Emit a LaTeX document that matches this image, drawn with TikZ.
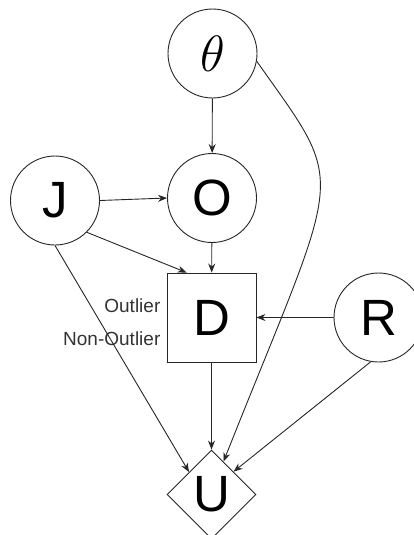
\RequirePackage{fix-cm}
\documentclass[tikz,border=0pt]{standalone}
\usepackage{fontspec}
\setmainfont{Liberation Sans}
\usetikzlibrary{calc,positioning,shapes,arrows.meta}

\begin{document}
\begin{tikzpicture}[x=1pt,y=-1pt,>={Stealth[length=9pt,width=7pt]}]

	\tikzset{
		var/.style={circle,draw=black!85,line width=0.9pt,minimum size=89pt,inner sep=0pt,font=\fontsize{51}{60}\selectfont},
		decision/.style={rectangle,draw=black!85,line width=0.9pt,minimum size=89pt,inner sep=0pt,font=\fontsize{51}{60}\selectfont},
		utility/.style={diamond,draw=black!85,line width=0.9pt,minimum size=89pt,inner sep=0pt,font=\fontsize{51}{60}\selectfont},
		lbl/.style={font=\fontsize{19}{22}\selectfont,text=black!80,inner sep=0pt,anchor=east},
		edge/.style={->,draw=black!85,line width=0.9pt}
	}

	\useasboundingbox (0,0) rectangle (414,535);

	\foreach \nm/\x/\y/\txt in {theta/212.5/53.5/$\theta$, J/55/200.5/J, O/212/198/O, R/378.5/317.5/R} {
			\node[var] (\nm) at (\x,\y) {\txt};
		}

	\node[decision] (D) at (211.5,317.5) {D};
	\node[utility] (U) at (211.5,494.5) {U};

	\node[lbl] (outlier) at ($(D.west)+(-6,-11.5)$) {Outlier};
	\node[lbl] (nonoutlier) at ($(D.west)+(-6,21.5)$) {Non-Outlier};

	\draw[edge] (theta) -- (O);
	\draw[edge] (J.east) -- (O.west);
	\draw[edge] (J.south east) -- (D.119);
	\draw[edge] (O) -- (D);
	\draw[edge] (R) -- (D);
	\draw[edge] (D) -- (U);
	\draw[edge] (J.south) -- (U.north west);
	\draw[edge] (R.-100) -- (U.46);
	\draw[edge] (theta.-10) .. controls (349,192) and (343,161) .. (U.70);
\end{tikzpicture}
\end{document}
